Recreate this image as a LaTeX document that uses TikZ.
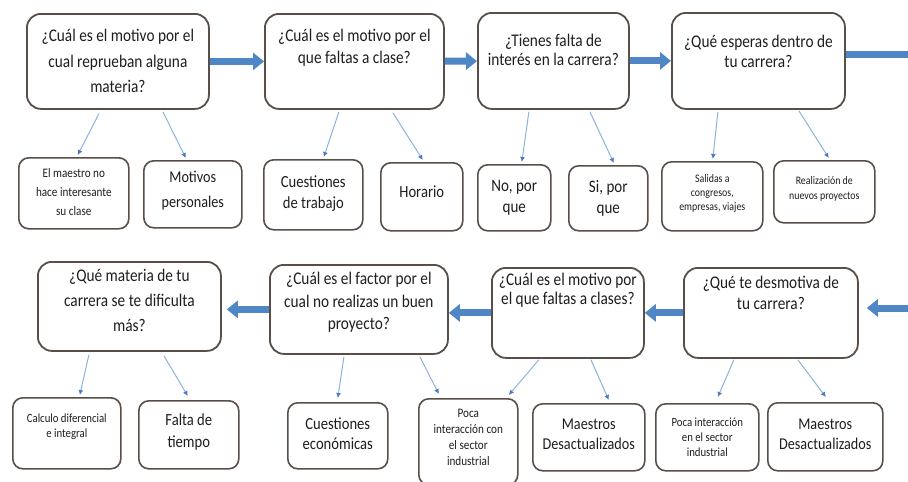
\documentclass[tikz,border=0pt]{standalone}
\usepackage{fontspec}
\setmainfont{Carlito}[FakeStretch=0.86]
\usetikzlibrary{arrows.meta,calc}

\definecolor{boxline}{HTML}{5A4E48}
\definecolor{flowblue}{HTML}{4F86C6}
\definecolor{linkblue}{HTML}{8FB3DC}
\definecolor{tipblue}{HTML}{4A7DBE}
\definecolor{ink}{HTML}{1E1E1E}

% font size / line spacing helper
\newcommand{\fs}[2]{\fontsize{#1}{#2}\selectfont}

\tikzset{
  qbox/.style={draw=boxline, line width=1.8pt, rounded corners=14pt, anchor=north west, inner sep=0pt},
  abox/.style={draw=boxline, line width=1.6pt, rounded corners=10pt, anchor=north west, inner sep=0pt},
  qtext/.style={align=center, anchor=north, inner sep=0pt, text=ink},
  atext/.style={align=center, inner sep=0pt, text=ink},
  flow/.style={draw=flowblue, line width=7pt, -{Triangle[length=11pt,width=17pt]}},
  flowline/.style={draw=flowblue, line width=7pt},
  link/.style={draw=linkblue, line width=1pt, -{Latex[length=5pt,width=5pt,color=tipblue]}},
}

\begin{document}
\begin{tikzpicture}[x=1pt, y=-1pt]
\fill[white] (0,0) rectangle (908,482);
\useasboundingbox (0,0) rectangle (908,482);

% ---------- upper row: questions ----------
\node[qbox, minimum width=182pt, minimum height=95pt] (q1) at (26,13) {};
\node[qbox, minimum width=179pt, minimum height=95pt] (q2) at (264,13) {};
\node[qbox, minimum width=151pt, minimum height=96pt] (q3) at (477,12) {};
\node[qbox, minimum width=173pt, minimum height=96pt] (q4) at (671,12) {};

\node[qtext, font=\fs{17.8}{25.5}, yshift=-16pt] (q1t) at (q1.north) {¿Cuál es el motivo por el\\cual reprueban alguna\\materia?};
\node[qtext, font=\fs{17.8}{22}, yshift=-16pt] (q2t) at (q2.north) {¿Cuál es el motivo por el\\que faltas a clase?};
\node[qtext, font=\fs{17.8}{19}, yshift=-22pt] (q3t) at (q3.north) {¿Tienes falta de\\interés en la carrera?};
\node[qtext, font=\fs{17.8}{20}, yshift=-23pt] (q4t) at (q4.north) {¿Qué esperas dentro de\\tu carrera?};

% ---------- upper row: answers ----------
\node[abox, minimum width=110pt, minimum height=71pt] (c1) at (18,157) {};
\node[abox, minimum width=98pt,  minimum height=67pt] (c2) at (143,160) {};
\node[abox, minimum width=99pt,  minimum height=70pt] (c3) at (263,159) {};
\node[abox, minimum width=82pt,  minimum height=68pt] (c4) at (380,162) {};
\node[abox, minimum width=73pt,  minimum height=66pt] (c5) at (477,164) {};
\node[abox, minimum width=79pt,  minimum height=65pt] (c6) at (568,165) {};
\node[abox, minimum width=101pt, minimum height=69pt] (c7) at (661,161) {};
\node[abox, minimum width=101pt, minimum height=62pt] (c8) at (773,160) {};

\node[atext, font=\fs{13}{19}, yshift=1pt] (c1t) at (c1) {El maestro no\\hace interesante\\su clase};
\node[atext, font=\fs{16.5}{25}, yshift=4pt] (c2t) at (c2) {Motivos\\personales};
\node[atext, font=\fs{17}{21}, yshift=1pt] (c3t) at (c3) {Cuestiones\\de trabajo};
\node[atext, font=\fs{17}{21}, yshift=5pt] (c4t) at (c4) {Horario};
\node[atext, font=\fs{17.5}{21}] (c5t) at (c5) {No, por\\que};
\node[atext, font=\fs{17.5}{21}] (c6t) at (c6) {Si, por\\que};
\node[atext, font=\fs{11.5}{14}, yshift=3pt] (c7t) at (c7) {Salidas a\\congresos,\\empresas, viajes};
\node[atext, font=\fs{11.5}{15}, yshift=3pt] (c8t) at (c8) {Realización de\\nuevos proyectos};

% ---------- lower row: questions ----------
\node[qbox, minimum width=183pt, minimum height=89pt] (b1) at (37,261) {};
\node[qbox, minimum width=178pt, minimum height=89pt] (b2) at (269,264) {};
\node[qbox, minimum width=152pt, minimum height=90pt] (b3) at (491,267) {};
\node[qbox, minimum width=174pt, minimum height=90pt] (b4) at (683,267) {};

\node[qtext, font=\fs{17.8}{25}, yshift=-8pt] (b1t) at (b1.north) {¿Qué materia de tu\\carrera se te dificulta\\más?};
\node[qtext, font=\fs{17.8}{22.5}, yshift=-8pt] (b2t) at (b2.north) {¿Cuál es el factor por el\\cual no realizas un buen\\proyecto?};
\node[qtext, font=\fs{17.8}{18.5}, yshift=-6pt] (b3t) at (b3.north) {¿Cuál es el motivo por\\el que faltas a clases?};
\node[qtext, font=\fs{17.8}{21}, yshift=-9pt] (b4t) at (b4.north) {¿Qué te desmotiva de\\tu carrera?};

% ---------- lower row: answers ----------
\node[abox, minimum width=108pt, minimum height=71pt] (d1) at (12,397) {};
\node[abox, minimum width=100pt, minimum height=68pt] (d2) at (138,400) {};
\node[abox, minimum width=100pt, minimum height=66pt] (d3) at (287,402) {};
\node[abox, minimum width=99pt,  minimum height=86pt] (d4) at (418,398) {};
\node[abox, minimum width=112pt, minimum height=67pt] (d5) at (532,403) {};
\node[abox, minimum width=103pt, minimum height=67pt] (d6) at (655,403) {};
\node[abox, minimum width=115pt, minimum height=68pt] (d7) at (767,402) {};

\node[atext, font=\fs{12.5}{15}, yshift=7pt] (d1t) at (d1) {Calculo diferencial\\e integral};
\node[atext, font=\fs{17}{22}, yshift=3pt] (d2t) at (d2) {Falta de\\tiempo};
\node[atext, font=\fs{17}{19.5}, yshift=2pt] (d3t) at (d3) {Cuestiones\\económicas};
\node[atext, font=\fs{13}{16}, yshift=4pt] (d4t) at (d4) {Poca\\interacción con\\el sector\\industrial};
\node[atext, font=\fs{16.5}{20}, yshift=3pt] (d5t) at (d5) {Maestros\\Desactualizados};
\node[atext, font=\fs{12.5}{15}] (d6t) at (d6) {Poca interacción\\en el sector\\industrial};
\node[atext, font=\fs{16.5}{20}, yshift=3pt] (d7t) at (d7) {Maestros\\Desactualizados};

% ---------- main flow ----------
\coordinate (outR) at (912,54);
\coordinate (inR) at (912,308);
\draw[flow] (q1) -- (q2);
\draw[flow] (q2) -- (q3);
\draw[flow] (q3) -- (q4);
\draw[flowline] (q4.east |- outR) -- (outR);
\draw[flow, shorten >=8pt] (inR) -- (inR -| b4.east);
\draw[flow] (b4.west) -- (b4.west -| b3.east);
\draw[flow] (b3.west) -- (b3.west -| b2.east);
\draw[flow, shorten >=5pt] (b2.west) -- (b2.west -| b1.east);

% ---------- question to answer links ----------
\draw[link] ([xshift=-19pt,yshift=-4pt]q1.south)   -- ([xshift=4pt,yshift=2pt]c1.north);
\draw[link] ([xshift=45pt,yshift=-2pt]q1.south)    -- ([xshift=-7pt,yshift=2pt]c2.north);
\draw[link] ([xshift=-15.5pt,yshift=-2pt]q2.south) -- ([xshift=10.5pt,yshift=2pt]c3.north);
\draw[link] ([xshift=38.5pt,yshift=-3pt]q2.south)  -- ([xshift=1pt,yshift=2pt]c4.north);
\draw[link] ([xshift=-24.5pt,yshift=-2pt]q3.south) -- ([xshift=7.5pt,yshift=2pt]c5.north);
\draw[link] ([xshift=36.5pt,yshift=-2pt]q3.south)  -- ([xshift=5.5pt,yshift=2pt]c6.north);
\draw[link] ([xshift=-40.5pt,yshift=-2pt]q4.south) -- ([xshift=0.5pt,yshift=2pt]c7.north);
\draw[link] ([xshift=40.5pt,yshift=-1pt]q4.south)  -- ([xshift=4.5pt,yshift=2pt]c8.north);

\draw[link] ([xshift=-40.5pt,yshift=-3pt]b1.south) -- ([xshift=13pt,yshift=2pt]d1.north);
\draw[link] ([xshift=34.5pt,yshift=-4pt]b1.south)  -- ([xshift=-1pt,yshift=4pt]d2.north);
\draw[link] ([xshift=-15pt,yshift=-2pt]b2.south)   -- ([xshift=0pt,yshift=4pt]d3.north);
\draw[link] ([xshift=61pt,yshift=-2pt]b2.south)    -- ([xshift=-29.5pt,yshift=4pt]d4.north);
\draw[link] ([xshift=-29pt,yshift=-1pt]b3.south)   -- ([xshift=40.5pt,yshift=3pt]d4.north);
\draw[link] ([xshift=23pt,yshift=-1pt]b3.south)    -- ([xshift=20pt,yshift=3pt]d5.north);
\draw[link] ([xshift=-37pt,yshift=-1pt]b4.south)   -- ([xshift=10.5pt,yshift=6pt]d6.north);
\draw[link] ([xshift=27pt,yshift=-1pt]b4.south)    -- ([xshift=0.5pt,yshift=5pt]d7.north);
\end{tikzpicture}
\end{document}
